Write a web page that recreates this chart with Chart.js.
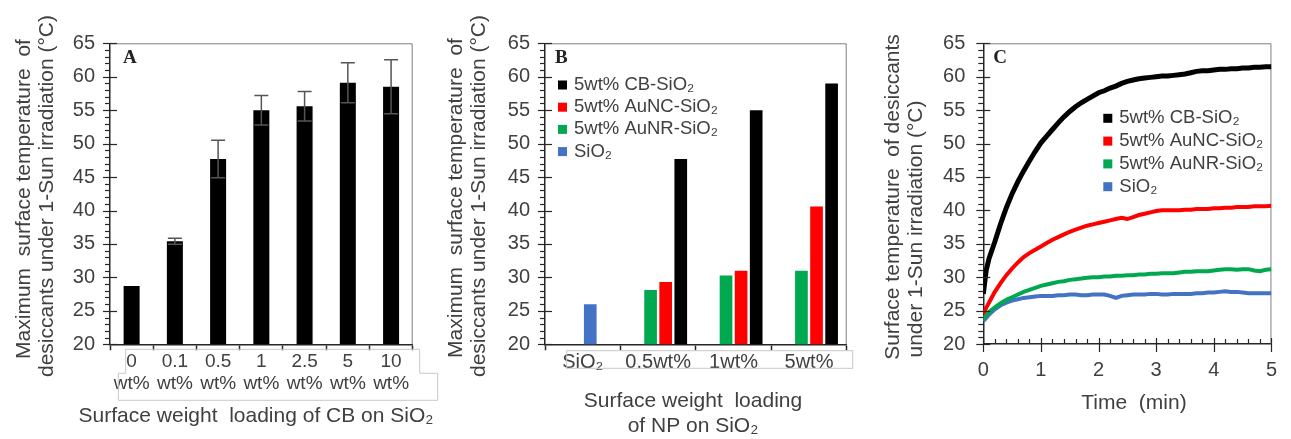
<!DOCTYPE html>
<html><head><meta charset="utf-8">
<script src="https://cdn.jsdelivr.net/npm/chart.js@4/dist/chart.umd.min.js"></script>
<style>
html,body{margin:0;padding:0;background:#fff;}
#wrap{position:relative;width:1291px;height:439px;overflow:hidden;background:#fff;}
.p{position:absolute;top:0;height:439px;}
</style></head><body>
<div id="wrap">
<div class="p" style="left:0;width:440px"><canvas id="cA"></canvas></div>
<div class="p" style="left:440px;width:430px"><canvas id="cB"></canvas></div>
<div class="p" style="left:870px;width:421px"><canvas id="cC"></canvas></div>
</div>
<script>
// ---------- Panel A data ----------
const catsA = ['0','0.1','0.5','1','2.5','5','10'];
const unitA = 'wt%';
const tempA = [28.7, 35.4, 47.7, 55.0, 55.6, 59.1, 58.5];
const errA  = [0, 0.45, 2.8, 2.2, 2.2, 3.0, 4.05];

// ---------- Panel B data ----------
const catsB = ['SiO\u2082','0.5wt%','1wt%','5wt%'];
const sio2B = [26.0, null, null, null];
const aunrB = [null, 28.1, 30.3, 31.0];
const auncB = [null, 29.3, 31.0, 40.6];
const cbB   = [null, 47.7, 55.0, 59.0];

// ---------- Panel C data ----------
const timeC = [0,0.05,0.1,0.2,0.3,0.4,0.5,0.6,0.7,0.8,0.9,1.0,1.1,1.2,1.3,1.4,1.5,1.6,1.7,1.8,1.9,2.0,
  2.1,2.2,2.3,2.4,2.5,2.6,2.7,2.8,2.9,3.0,3.1,3.2,3.3,3.4,3.5,3.6,3.7,3.8,3.9,4.0,4.1,4.2,4.3,4.4,4.5,4.6,4.7,4.8,4.9,5.0];
const cbC   = [27.5,31.0,32.8,35.3,38.0,40.4,42.5,44.3,45.9,47.4,48.8,50.1,51.1,52.1,53.1,54.0,54.8,55.5,56.1,56.6,57.1,57.6,
  57.9,58.3,58.6,59.0,59.3,59.5,59.7,59.8,59.9,60.0,60.1,60.1,60.2,60.3,60.4,60.6,60.8,60.9,60.9,61.0,61.1,61.1,61.2,61.2,61.3,61.3,61.4,61.4,61.5,61.5];
const auncC = [24.5,25.4,26.2,27.8,29.1,30.3,31.3,32.2,33.0,33.6,34.1,34.6,35.1,35.6,36.0,36.4,36.8,37.1,37.4,37.7,37.9,38.1,
  38.3,38.5,38.7,38.9,38.7,39.0,39.3,39.5,39.7,39.9,40.0,40.0,40.0,40.0,40.1,40.1,40.2,40.2,40.2,40.3,40.3,40.4,40.4,40.5,40.5,40.5,40.6,40.6,40.6,40.7];
const aunrC = [23.8,24.3,24.8,25.5,26.1,26.6,27.0,27.4,27.8,28.1,28.4,28.7,28.9,29.1,29.3,29.4,29.6,29.7,29.8,29.9,30.0,30.0,
  30.1,30.1,30.2,30.2,30.3,30.3,30.4,30.4,30.5,30.5,30.6,30.6,30.6,30.7,30.8,30.8,30.9,30.9,30.9,31.0,31.1,31.2,31.2,31.1,31.2,31.2,31.0,30.9,31.1,31.2];
const sio2C = [23.4,23.9,24.4,25.2,25.8,26.2,26.5,26.7,26.9,27.0,27.1,27.2,27.2,27.2,27.3,27.3,27.4,27.4,27.3,27.3,27.4,27.4,
  27.4,27.2,26.9,27.2,27.3,27.4,27.4,27.4,27.5,27.5,27.4,27.4,27.5,27.5,27.5,27.5,27.6,27.6,27.7,27.7,27.8,27.9,27.8,27.8,27.7,27.6,27.6,27.6,27.6,27.6];

// ---------- series names / colours ----------
const namesNP = ['5wt% CB-SiO\u2082','5wt% AuNC-SiO\u2082','5wt% AuNR-SiO\u2082','SiO\u2082'];
const BLACK = '#000000', RED = '#FF0000', GREEN = '#00A84F', BLUE = '#4472C4';
const colorsNP = [BLACK, RED, GREEN, BLUE];

// ---------- style helpers ----------
const FONT = "'Liberation Sans', Arial, sans-serif";
const SERIF = "'Liberation Serif', 'Times New Roman', serif";
const TXT = '#404040', AX = '#262626';
const TITLE = '21px ' + FONT, LEG = '18.5px ' + FONT;
Chart.defaults.font.family = FONT;
Chart.defaults.color = TXT;

function txt(ctx, s, x, y, o) {
  o = o || {};
  ctx.save();
  ctx.font = o.font || TITLE;
  ctx.fillStyle = o.color || TXT;
  ctx.textAlign = o.align || 'center';
  ctx.textBaseline = 'middle';
  ctx.translate(x, y);
  if (o.rot) ctx.rotate(o.rot);
  ctx.fillText(s, 0, 0);
  ctx.restore();
}
function frame(chart) {
  const ca = chart.chartArea, ctx = chart.ctx;
  ctx.save(); ctx.strokeStyle = '#7f7f7f'; ctx.lineWidth = 1;
  ctx.beginPath();
  ctx.moveTo(ca.left, ca.top + 0.5); ctx.lineTo(ca.right - 0.5, ca.top + 0.5); ctx.lineTo(ca.right - 0.5, ca.bottom);
  ctx.stroke(); ctx.restore();
}
function yTicks(chart) {
  const y = chart.scales.y, x0 = chart.chartArea.left, ctx = chart.ctx;
  ctx.save(); ctx.strokeStyle = AX; ctx.lineWidth = 1.2;
  for (let v = y.min; v <= y.max; v++) {
    const py = Math.round(y.getPixelForValue(v)) + 0.5;
    ctx.beginPath();
    if (v % 5 === 0) { ctx.moveTo(x0 - 7, py); ctx.lineTo(x0 + 7, py); }
    else { ctx.moveTo(x0 - 5, py); ctx.lineTo(x0, py); }
    ctx.stroke();
  }
  ctx.restore();
}
function legendBox(ctx, x, y0, dy, sq) {
  namesNP.forEach((n, i) => {
    const yy = y0 + i * dy;
    ctx.fillStyle = colorsNP[i];
    ctx.fillRect(x, yy - sq / 2, sq, sq);
    txt(ctx, n, x + sq + 7, yy, {align: 'left', font: LEG});
  });
}
function yAxisCfg(pad, w) {
  return {
    min: 20, max: 65,
    ticks: {stepSize: 5, padding: pad, color: TXT, font: {size: 20}},
    grid: {display: true, drawOnChartArea: false, drawTicks: false},
    border: {display: true, color: AX, width: 1.5},
    afterFit(s) { s.width = w; }
  };
}
function catXCfg(h, fontSize, lh) {
  return {
    ticks: {color: TXT, font: {size: fontSize, lineHeight: lh}, padding: 1, maxRotation: 0, autoSkip: false},
    grid: {offset: true, drawOnChartArea: false, drawTicks: true, tickLength: 6, tickColor: AX, tickWidth: 1.5},
    border: {display: true, color: AX, width: 1.5},
    afterFit(s) { s.height = h; }
  };
}
const base = {responsive: true, maintainAspectRatio: false, animation: false,
  plugins: {legend: {display: false}, tooltip: {enabled: false}}};

// ---------- Panel A ----------
const plugA = {
  id: 'plugA',
  beforeDatasetsDraw(chart) { frame(chart); },
  afterDatasetsDraw(chart) {
    const ctx = chart.ctx, y = chart.scales.y, meta = chart.getDatasetMeta(0);
    ctx.save(); ctx.strokeStyle = '#555'; ctx.lineWidth = 1.5;
    tempA.forEach((v, i) => {
      const e = errA[i]; if (!e) return;
      const px = meta.data[i].x, t = y.getPixelForValue(v + e), b = y.getPixelForValue(v - e);
      ctx.beginPath();
      ctx.moveTo(px, t); ctx.lineTo(px, b);
      ctx.moveTo(px - 7, t); ctx.lineTo(px + 7, t);
      ctx.moveTo(px - 7, b); ctx.lineTo(px + 7, b);
      ctx.stroke();
    });
    ctx.restore();
  },
  afterDraw(chart) {
    const ctx = chart.ctx, ca = chart.chartArea;
    yTicks(chart);
    ctx.save(); ctx.strokeStyle = '#c8c8c8'; ctx.lineWidth = 1;
    const t1 = ca.bottom + 5, t2 = ca.bottom + 29, b2 = ca.bottom + 56;
    ctx.beginPath();
    ctx.moveTo(ca.left + 15.7, t1); ctx.lineTo(ca.right + 7, t1); ctx.lineTo(ca.right + 7, t2);
    ctx.lineTo(ca.right + 25, t2); ctx.lineTo(ca.right + 25, b2); ctx.lineTo(ca.left + 8.3, b2);
    ctx.lineTo(ca.left + 8.3, t2); ctx.lineTo(ca.left + 15.7, t2); ctx.closePath();
    ctx.stroke(); ctx.restore();
    txt(ctx, 'A', ca.left + 13, ca.top + 15, {font: 'bold 19px ' + SERIF, color: '#222', align: 'left'});
    txt(ctx, 'Maximum  surface temperature  of', 24, 199, {rot: -Math.PI / 2});
    txt(ctx, 'desiccants under 1-Sun irradiation (\u00B0C)', 47, 196, {rot: -Math.PI / 2});
    txt(ctx, 'Surface weight  loading of CB on SiO\u2082', 256, 416);
  }
};
new Chart(document.getElementById('cA'), {
  type: 'bar',
  data: {labels: catsA.map(c => [c, unitA]),
    datasets: [{label: 'CB-SiO\u2082', data: tempA, backgroundColor: '#000', barPercentage: 0.37, categoryPercentage: 1}]},
  options: Object.assign({}, base, {
    layout: {padding: {left: 0, top: 43.3, right: 27.3, bottom: 0}},
    scales: {x: catXCfg(94.7, 19, 1.137), y: yAxisCfg(15, 110)}
  }),
  plugins: [plugA]
});

// ---------- Panel B ----------
const plugB = {
  id: 'plugB',
  beforeDatasetsDraw(chart) { frame(chart); },
  afterDraw(chart) {
    const ctx = chart.ctx, ca = chart.chartArea;
    yTicks(chart);
    ctx.save(); ctx.strokeStyle = '#c8c8c8'; ctx.lineWidth = 1;
    ctx.strokeRect(ca.left + 21.7, ca.bottom + 6.4, ca.right - ca.left - 15.7, 17.6);
    ctx.restore();
    txt(ctx, 'B', ca.left + 10, ca.top + 15, {font: 'bold 19px ' + SERIF, color: '#222', align: 'left'});
    legendBox(ctx, 118, 85, 22.2, 9);
    txt(ctx, 'Maximum  surface temperature  of', 16, 198, {rot: -Math.PI / 2});
    txt(ctx, 'desiccants under 1-Sun irradiation (\u00B0C)', 39, 196, {rot: -Math.PI / 2});
    txt(ctx, 'Surface weight  loading', 253, 401.7);
    txt(ctx, 'of NP on SiO\u2082', 253, 426.7);
  }
};
new Chart(document.getElementById('cB'), {
  type: 'bar',
  data: {labels: catsB,
    datasets: [
      {label: 'slot', data: [null, null, null, null], stack: 's0', backgroundColor: 'rgba(0,0,0,0)'},
      {label: namesNP[2], data: aunrB, backgroundColor: GREEN, stack: 's1'},
      {label: namesNP[1], data: auncB, backgroundColor: RED, stack: 's2'},
      {label: namesNP[3], data: sio2B, backgroundColor: BLUE, stack: 's2'},
      {label: namesNP[0], data: cbB, backgroundColor: BLACK, stack: 's3'}
    ].map(d => Object.assign(d, {barPercentage: 0.84, categoryPercentage: 0.8}))},
  options: Object.assign({}, base, {
    layout: {padding: {left: 0, top: 43.3, right: 23.3, bottom: 0}},
    scales: {x: catXCfg(94.7, 20, 1.08), y: yAxisCfg(15, 105)}
  }),
  plugins: [plugB]
});

// ---------- Panel C ----------
const plugC = {
  id: 'plugC',
  beforeDatasetsDraw(chart) { frame(chart); },
  afterDraw(chart) {
    const ctx = chart.ctx, ca = chart.chartArea, x = chart.scales.x;
    yTicks(chart);
    ctx.save(); ctx.strokeStyle = AX; ctx.lineWidth = 1.2;
    for (let k = 0; k <= 25; k++) {
      const px = Math.round(x.getPixelForValue(k / 5)) + 0.5;
      ctx.beginPath();
      if (k % 5 === 0) { ctx.moveTo(px, ca.bottom - 6); ctx.lineTo(px, ca.bottom + 8); }
      else { ctx.moveTo(px, ca.bottom - 5); ctx.lineTo(px, ca.bottom); }
      ctx.stroke();
    }
    ctx.restore();
    txt(ctx, 'C', ca.left + 10, ca.top + 15, {font: 'bold 19px ' + SERIF, color: '#222', align: 'left'});
    legendBox(ctx, 233.3, 118.3, 22.8, 9);
    txt(ctx, 'Surface temperature  of desiccants', 23.3, 197, {rot: -Math.PI / 2});
    txt(ctx, 'under 1-Sun irradiation (\u00B0C)', 46.7, 229, {rot: -Math.PI / 2});
    txt(ctx, 'Time  (min)', 264, 403);
  }
};
const seriesC = [cbC, auncC, aunrC, sio2C];
new Chart(document.getElementById('cC'), {
  type: 'line',
  data: {datasets: seriesC.map((s, i) => ({
    label: namesNP[i], data: timeC.map((t, j) => ({x: t, y: s[j]})),
    borderColor: colorsNP[i], backgroundColor: colorsNP[i],
    borderWidth: i === 0 ? 5 : 4, pointRadius: 0, tension: 0, fill: false
  }))},
  options: Object.assign({}, base, {
    layout: {padding: {left: 0, top: 43.3, right: 6, bottom: 0}},
    scales: {
      x: {type: 'linear', min: 0, max: 5,
        ticks: {stepSize: 1, padding: 14, color: TXT, font: {size: 20}, maxRotation: 0},
        grid: {display: true, drawOnChartArea: false, drawTicks: false},
        border: {display: true, color: AX, width: 1.5},
        afterFit(s) { s.height = 95; }},
      y: yAxisCfg(18, 113.3)
    }
  }),
  plugins: [plugC]
});
</script>
</body></html>
